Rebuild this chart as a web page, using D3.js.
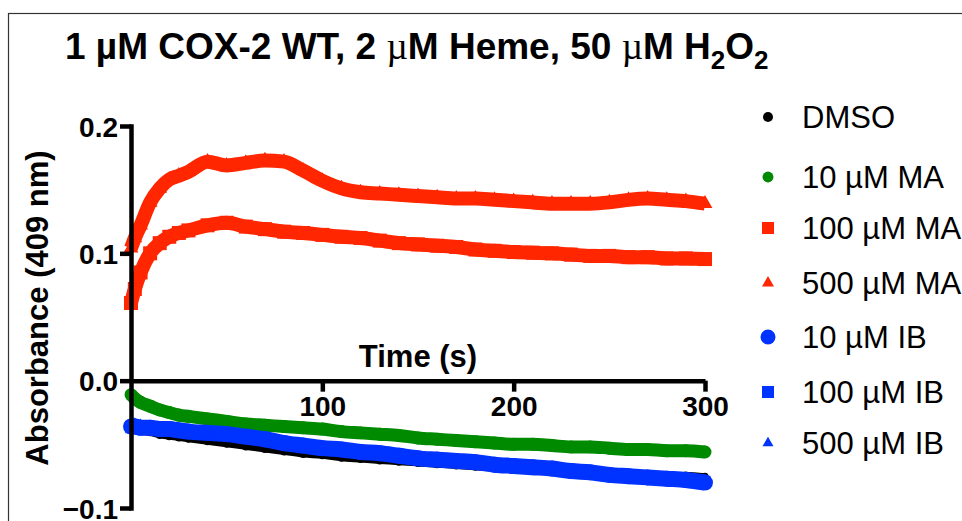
<!DOCTYPE html>
<html>
<head>
<meta charset="utf-8">
<script src="https://cdn.jsdelivr.net/npm/d3@7"></script>
<style>
  body { margin: 0; background: #fff; }
  svg { display: block; font-family: "Liberation Sans", Arial, sans-serif; }
  .tick-label { font-size: 28px; font-weight: bold; }
  .axis-title { font-size: 31px; font-weight: bold; }
  .legend-label { font-size: 31px; }
</style>
</head>
<body>
<svg width="962" height="521"></svg>
<script>
// time points (s)
var time = [0, 2, 5, 10, 15, 20, 25, 30, 40, 50, 60, 70, 80, 90, 100, 110, 120, 130, 140, 150,
            160, 170, 180, 190, 200, 210, 220, 230, 240, 250, 260, 270, 280, 290, 300];

// absorbance at 409 nm
var dmso   = [-0.038, -0.039, -0.040, -0.041, -0.043, -0.044, -0.045, -0.046, -0.048, -0.050, -0.052, -0.054, -0.056, -0.058, -0.059, -0.061, -0.062, -0.063, -0.064, -0.065,
              -0.066, -0.067, -0.068, -0.069, -0.069, -0.070, -0.071, -0.071, -0.072, -0.072, -0.073, -0.073, -0.074, -0.074, -0.075];
var ma10   = [-0.011, -0.014, -0.017, -0.020, -0.023, -0.025, -0.027, -0.028, -0.030, -0.032, -0.034, -0.035, -0.036, -0.037, -0.038, -0.040, -0.041, -0.042, -0.043, -0.045,
              -0.046, -0.047, -0.048, -0.049, -0.050, -0.050, -0.051, -0.052, -0.052, -0.053, -0.054, -0.054, -0.055, -0.055, -0.056];
var ma100  = [0.061, 0.072, 0.085, 0.100, 0.108, 0.113, 0.116, 0.118, 0.122, 0.124, 0.121, 0.119, 0.117, 0.116, 0.1145, 0.113, 0.112, 0.110, 0.108, 0.107,
              0.106, 0.105, 0.103, 0.102, 0.101, 0.1005, 0.100, 0.099, 0.098, 0.098, 0.097, 0.097, 0.096, 0.096, 0.0955];
var ma500  = [0.104, 0.112, 0.122, 0.140, 0.151, 0.158, 0.161, 0.164, 0.172, 0.169, 0.171, 0.173, 0.172, 0.165, 0.157, 0.151, 0.148, 0.147, 0.146, 0.145,
              0.144, 0.143, 0.143, 0.142, 0.141, 0.140, 0.139, 0.139, 0.139, 0.140, 0.142, 0.143, 0.142, 0.141, 0.139];
var ib10   = [-0.036, -0.036, -0.037, -0.037, -0.038, -0.038, -0.039, -0.040, -0.041, -0.042, -0.044, -0.046, -0.049, -0.051, -0.053, -0.054, -0.056, -0.057, -0.059, -0.061,
              -0.062, -0.063, -0.064, -0.066, -0.067, -0.068, -0.069, -0.071, -0.072, -0.074, -0.075, -0.076, -0.077, -0.078, -0.080];
var ib100  = [-0.037, -0.037, -0.038, -0.038, -0.039, -0.039, -0.040, -0.041, -0.042, -0.043, -0.045, -0.047, -0.049, -0.051, -0.053, -0.055, -0.056, -0.058, -0.059, -0.061,
              -0.062, -0.063, -0.065, -0.066, -0.067, -0.068, -0.070, -0.071, -0.072, -0.073, -0.075, -0.076, -0.077, -0.078, -0.079];
var ib500  = [-0.034, -0.034, -0.035, -0.036, -0.037, -0.037, -0.038, -0.039, -0.041, -0.042, -0.044, -0.046, -0.048, -0.050, -0.052, -0.054, -0.056, -0.057, -0.059, -0.060,
              -0.062, -0.063, -0.064, -0.065, -0.067, -0.068, -0.069, -0.070, -0.072, -0.073, -0.074, -0.075, -0.077, -0.078, -0.079];

var seriesNames = ["DMSO", "10 \u00b5M MA", "100 \u00b5M MA", "500 \u00b5M MA", "10 \u00b5M IB", "100 \u00b5M IB", "500 \u00b5M IB"];
var xTicks = [100, 200, 300];
var yTicks = [0.2, 0.1, 0.0, -0.1];

var svg = d3.select("svg"),
    width = +svg.attr("width"),
    height = +svg.attr("height");

var red = "#ff2600", green = "#008a00", blue = "#0033ff";

var series = [
  {name: seriesNames[0], values: dmso,  color: "#000", shape: d3.symbolCircle,   size: Math.PI * 3.5 * 3.5, band: 6,  lsize: Math.PI * 25},
  {name: seriesNames[1], values: ma10,  color: green,  shape: d3.symbolCircle,   size: Math.PI * 42,        band: 13, lsize: Math.PI * 30},
  {name: seriesNames[2], values: ma100, color: red,    shape: d3.symbolSquare,   size: 196,                 band: 14, lsize: 144},
  {name: seriesNames[3], values: ma500, color: red,    shape: d3.symbolTriangle, size: 95,                  band: 14, lsize: 62},
  {name: seriesNames[4], values: ib10,  color: blue,   shape: d3.symbolCircle,   size: Math.PI * 64,        band: 16, lsize: Math.PI * 56},
  {name: seriesNames[5], values: ib100, color: blue,   shape: d3.symbolSquare,   size: 121,                 band: 11, lsize: 144},
  {name: seriesNames[6], values: ib500, color: blue,   shape: d3.symbolTriangle, size: 60,                  band: 10, lsize: 52}
];

var x = d3.scaleLinear().domain([0, 300]).range([131, 705]);
var y = d3.scaleLinear().domain([-0.1, 0.2]).range([508, 126]);

// frame
svg.append("rect")
    .attr("x", 8.5).attr("y", 13.5)
    .attr("width", width + 20).attr("height", height + 20)
    .attr("fill", "none")
    .attr("stroke", "#333")
    .attr("stroke-width", 1.2);

// title
var title = svg.append("text")
    .attr("x", 65).attr("y", 59)
    .style("font-size", "37px").style("font-weight", "bold");
title.append("tspan").text("1 \u00b5M COX-2 WT, 2 ");
title.append("tspan").style("font-family", "'Liberation Serif', serif").style("font-weight", "normal").text("\u00b5");
title.append("tspan").text("M Heme, 50 ");
title.append("tspan").style("font-family", "'Liberation Serif', serif").style("font-weight", "normal").text("\u00b5");
title.append("tspan").text("M H");
title.append("tspan").style("font-size", "26px").attr("dy", 10).text("2");
title.append("tspan").attr("dy", -10).text("O");
title.append("tspan").style("font-size", "26px").attr("dy", 10).text("2");

// data
var line = d3.line()
    .x(function(d, i) { return x(time[i]); })
    .y(function(d) { return y(d); })
    .curve(d3.curveMonotoneX);

var plot = svg.append("g").attr("class", "series");

series.forEach(function(s) {
  var g = plot.append("g");
  g.append("path")
      .attr("d", line(s.values))
      .attr("fill", "none")
      .attr("stroke", s.color)
      .attr("stroke-width", s.band);
  g.selectAll("path.pt")
      .data(s.values)
      .enter().append("path")
      .attr("class", "pt")
      .attr("d", d3.symbol().type(s.shape).size(s.size))
      .attr("transform", function(d, i) { return "translate(" + x(time[i]) + "," + y(d) + ")"; })
      .attr("fill", s.color);
});

// axes
var xAxis = svg.append("g")
    .attr("transform", "translate(0," + y(0) + ")")
    .call(d3.axisBottom(x).tickValues(xTicks).tickSize(11).tickSizeOuter(0).tickFormat(d3.format("d")));
var yAxis = svg.append("g")
    .attr("transform", "translate(" + x(0) + ",0)")
    .call(d3.axisLeft(y).tickValues(yTicks).tickSize(11).tickSizeOuter(0).tickFormat(d3.format(".1f")));

[xAxis, yAxis].forEach(function(a) {
  a.select(".domain").attr("stroke", "#000").attr("stroke-width", 4.5);
  a.selectAll(".tick line").attr("stroke", "#000").attr("stroke-width", 4.5);
  a.selectAll(".tick text").attr("class", "tick-label").attr("fill", "#000").attr("font-family", null).attr("font-size", null);
});
xAxis.selectAll(".tick text").attr("y", 15);
yAxis.selectAll(".tick text").attr("x", -13).attr("dy", "0.36em");
yAxis.select(".domain").attr("stroke-linecap", "square");

svg.append("text")
    .attr("class", "axis-title")
    .attr("x", (x.range()[0] + x.range()[1]) / 2)
    .attr("y", 367)
    .attr("text-anchor", "middle")
    .text("Time (s)");

svg.append("text")
    .attr("class", "axis-title")
    .attr("transform", "translate(48,308) rotate(-90)")
    .attr("text-anchor", "middle")
    .text("Absorbance (409 nm)");

// legend
var legendY = [117, 177, 228, 283, 337, 392, 443];
var legend = svg.append("g")
    .attr("class", "legend")
    .selectAll(".lnode")
    .data(series)
    .enter().append("g")
    .attr("class", "lnode")
    .attr("transform", function(d, i) { return "translate(768," + legendY[i] + ")"; });

legend.append("path")
    .attr("d", function(d) { return d3.symbol().type(d.shape).size(d.lsize)(); })
    .attr("fill", function(d) { return d.color; });

legend.append("text")
    .attr("class", "legend-label")
    .attr("x", 34)
    .attr("dy", "0.36em")
    .text(function(d) { return d.name; });
</script>
</body>
</html>
